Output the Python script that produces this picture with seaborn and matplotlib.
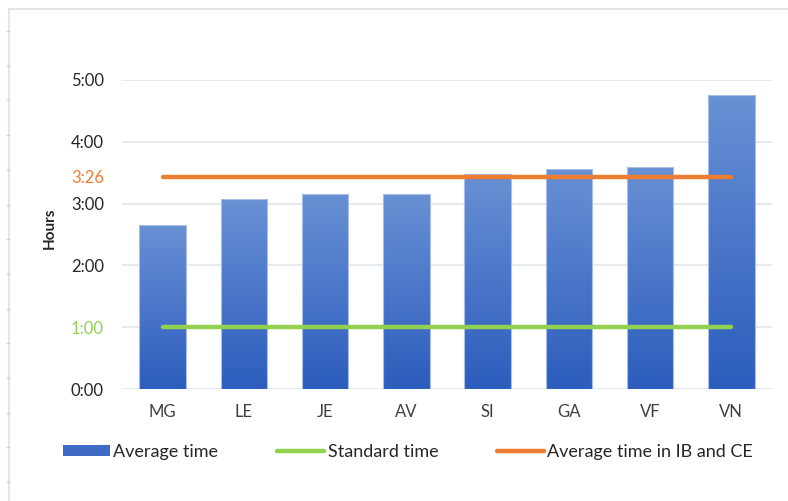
import numpy as np
import pandas as pd
import seaborn as sns
import matplotlib.pyplot as plt
from matplotlib.colors import LinearSegmentedColormap
from matplotlib.lines import Line2D
from matplotlib.patches import Patch

# ---- data -------------------------------------------------------------
people = ["MG", "LE", "JE", "AV", "SI", "GA", "VF", "VN"]
average_hours = [2.65, 3.07, 3.15, 3.15, 3.48, 3.56, 3.60, 4.75]
standard_hours = [1.0] * len(people)
ib_ce_hours = [3 + 26 / 60] * len(people)
y_ticks = [0, 1, 2, 3, 4, 5]
y_tick_labels = ["0:00", "1:00", "2:00", "3:00", "4:00", "5:00"]

df = pd.DataFrame({"person": people, "average": average_hours,
                   "standard": standard_hours, "ib_ce": ib_ce_hours})

# ---- style --------------------------------------------------------------
sns.set_theme(style="white")
plt.rcParams["font.family"] = ["Lato", "DejaVu Sans"]

BLUE_TOP = "#6890D4"
BLUE_BOTTOM = "#2C5DBD"
GREEN = "#92D050"
ORANGE = "#ED7D31"
GRID = "#E2E5EA"
TEXT = "#262626"

W, H = 788, 501
fig = plt.figure(figsize=(W / 100, H / 100), dpi=100)
fig.patch.set_facecolor("white")

left, right, bottom, top = 122, 772, 389, 80
ax = fig.add_axes([left / W, 1 - bottom / H, (right - left) / W, (bottom - top) / H])

sns.barplot(data=df, x="person", y="average", width=0.57, color="#4472C4",
            ax=ax, zorder=2)

# vertical gradient in every bar, light at the top, dark at the bottom
cmap = LinearSegmentedColormap.from_list("bar", [BLUE_BOTTOM, BLUE_TOP])
grad = np.linspace(0, 1, 256).reshape(-1, 1)
for p in ax.patches:
    x0, y0 = p.get_x(), p.get_y()
    w, h = p.get_width(), p.get_height()
    im = ax.imshow(grad, cmap=cmap, origin="lower", aspect="auto",
                   extent=[x0, x0 + w, y0, y0 + h], zorder=2.1)
    im.set_clip_path(p)
    p.set_facecolor("none")
    p.set_edgecolor("#A9BDE6")
    p.set_linewidth(0.8)
    p.set_zorder(2.2)

sns.lineplot(data=df, x="person", y="standard", color=GREEN, lw=3.2,
             sort=False, ax=ax, zorder=3, solid_capstyle="round")
sns.lineplot(data=df, x="person", y="ib_ce", color=ORANGE, lw=3.2,
             sort=False, ax=ax, zorder=3, solid_capstyle="round")

ax.set_xlim(-0.5, len(people) - 0.5)
ax.set_ylim(0, 5)

# gridlines on whole hours only
for yv in y_ticks:
    ax.axhline(yv, color=GRID, lw=1.2, zorder=1)

ax.set_yticks(y_ticks)
ax.set_yticklabels(y_tick_labels)
ax.set_yticks([ib_ce_hours[0]], minor=True)
ax.set_yticklabels(["3:26"], minor=True)
ax.tick_params(axis="y", which="both", length=0, pad=13, labelsize=12,
               labelcolor=TEXT)
for lbl in ax.get_yticklabels(minor=True):
    lbl.set_color(ORANGE)
ax.get_yticklabels()[1].set_color(GREEN)
ax.tick_params(axis="x", length=0, pad=11, labelsize=12, labelcolor="#404040")

ax.set_xlabel("")
ax.set_ylabel("")
for s in ax.spines.values():
    s.set_visible(False)

fig.text(50 / W, 1 - 228 / H, "Hours", rotation=90, ha="center", va="center",
         fontsize=11, fontweight="bold", color=TEXT)

# legend
handles = [
    Patch(facecolor="#3F6BC6", edgecolor="none"),
    Line2D([], [], color=GREEN, lw=3.2, solid_capstyle="round"),
    Line2D([], [], color=ORANGE, lw=3.2, solid_capstyle="round"),
]
labels = ["Average time", "Standard time", "Average time in IB and CE"]
fig.legend(handles, labels, ncol=3, loc="center",
           bbox_to_anchor=(408 / W, 1 - 452 / H), frameon=False,
           fontsize=13, labelcolor=TEXT, handlelength=2.6,
           handleheight=0.55, handletextpad=0.2, columnspacing=3.25)

# chart frame with ruler marks along the left edge
frame = "#DCE1E8"
fig.add_artist(Line2D([9 / W, 1], [1 - 9 / H, 1 - 9 / H], color=frame, lw=1.2))
fig.add_artist(Line2D([9 / W, 9 / W], [0, 1 - 9 / H], color=frame, lw=1.2))
for ym in np.arange(31, H, 34.7):
    fig.add_artist(Line2D([6.5 / W, 9 / W], [1 - ym / H, 1 - ym / H],
                          color="#C8CDD4", lw=1))

fig.savefig("out.png", dpi=100, facecolor="white")
